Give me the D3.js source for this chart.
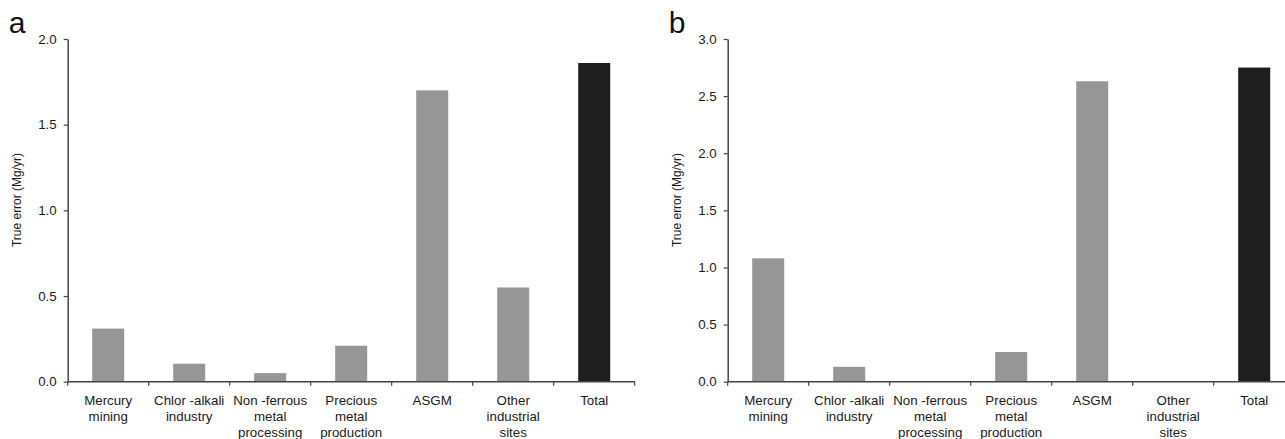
<!DOCTYPE html>
<html>
<head>
<meta charset="utf-8">
<script src="https://cdn.jsdelivr.net/npm/d3@7"></script>
<style>
  body { margin: 0; background: #fff; }
  svg { display: block; font-family: "Liberation Sans", Arial, sans-serif; }
</style>
</head>
<body>
<div id="chart"></div>
<script>
// categories (lines split with |)
const categories = ["Mercury|mining", "Chlor -alkali|industry", "Non -ferrous|metal|processing",
    "Precious|metal|production", "ASGM", "Other|industrial|sites", "Total"]
const valuesA = [0.31, 0.105, 0.05, 0.21, 1.70, 0.55, 1.86]
const valuesB = [1.08, 0.13, 0, 0.26, 2.63, 0, 2.75]
const ticksA = [0, 0.5, 1.0, 1.5, 2.0]
const ticksB = [0, 0.5, 1.0, 1.5, 2.0, 2.5, 3.0]

const W = 1285, H = 439
const svg = d3.select("#chart").append("svg")
    .attr("width", W).attr("height", H)
    .attr("viewBox", "0 0 " + W + " " + H)

const axisColor = "#444", textColor = "#1a1a1a"

function panel(letter, left, vals, ticks, ymax) {
    const top = 39, bottom = 381.7
    const bandW = 81
    const x = d3.scaleBand().domain(d3.range(vals.length))
        .range([left, left + bandW * vals.length])
    const y = d3.scaleLinear().domain([0, ymax]).range([bottom, top])
    const g = svg.append("g")

    const barW = 32
    g.selectAll("rect").data(vals).join("rect")
        .attr("x", (d, i) => x(i) + (x.bandwidth() - barW) / 2)
        .attr("width", barW)
        .attr("y", d => y(d))
        .attr("height", d => bottom - y(d))
        .attr("fill", (d, i) => i == vals.length - 1 ? "#1e1e1e" : "#969696")

    // y axis
    const ya = g.append("g").attr("transform", "translate(" + left + ",0)")
        .call(d3.axisLeft(y).tickValues(ticks).tickFormat(d3.format(".1f")).tickSize(4).tickPadding(7).tickSizeOuter(0))
    ya.select(".domain").attr("stroke", axisColor).attr("stroke-width", 1.5)
    ya.selectAll(".tick line").attr("stroke", axisColor).attr("stroke-width", 1.2)
    ya.selectAll(".tick text").attr("fill", textColor).style("font-size", "13.3px")

    // x axis: line + boundary ticks
    g.append("line").attr("x1", left).attr("x2", left + bandW * vals.length)
        .attr("y1", bottom).attr("y2", bottom)
        .attr("stroke", axisColor).attr("stroke-width", 1.5)
    g.selectAll(".bt").data(d3.range(vals.length + 1)).join("line")
        .attr("class", "bt")
        .attr("x1", i => left + i * bandW).attr("x2", i => left + i * bandW)
        .attr("y1", bottom).attr("y2", bottom + 4)
        .attr("stroke", axisColor).attr("stroke-width", 1.2)

    const lab = g.selectAll(".cl").data(categories).join("text")
        .attr("class", "cl")
        .attr("x", (d, i) => x(i) + x.bandwidth() / 2)
        .attr("y", bottom + 23.5)
        .attr("text-anchor", "middle")
        .attr("fill", textColor)
        .style("font-size", "13.3px")
    lab.selectAll("tspan").data(d => d.split("|")).join("tspan")
        .attr("x", function () { return this.parentNode.getAttribute("x") })
        .attr("dy", (d, i) => i == 0 ? 0 : 16)
        .text(d => d)

    g.append("text")
        .attr("transform", "translate(" + (left - 47) + "," + 200 + ") rotate(-90)")
        .attr("text-anchor", "middle")
        .attr("fill", textColor)
        .style("font-size", "12px")
        .text("True error (Mg/yr)")

    g.append("text").attr("x", left - 59).attr("y", 33)
        .attr("fill", "#111").style("font-size", "30px")
        .text(letter)
}

panel("a", 67.7, valuesA, ticksA, 2.0)
panel("b", 727.7, valuesB, ticksB, 3.0)
</script>
</body>
</html>
